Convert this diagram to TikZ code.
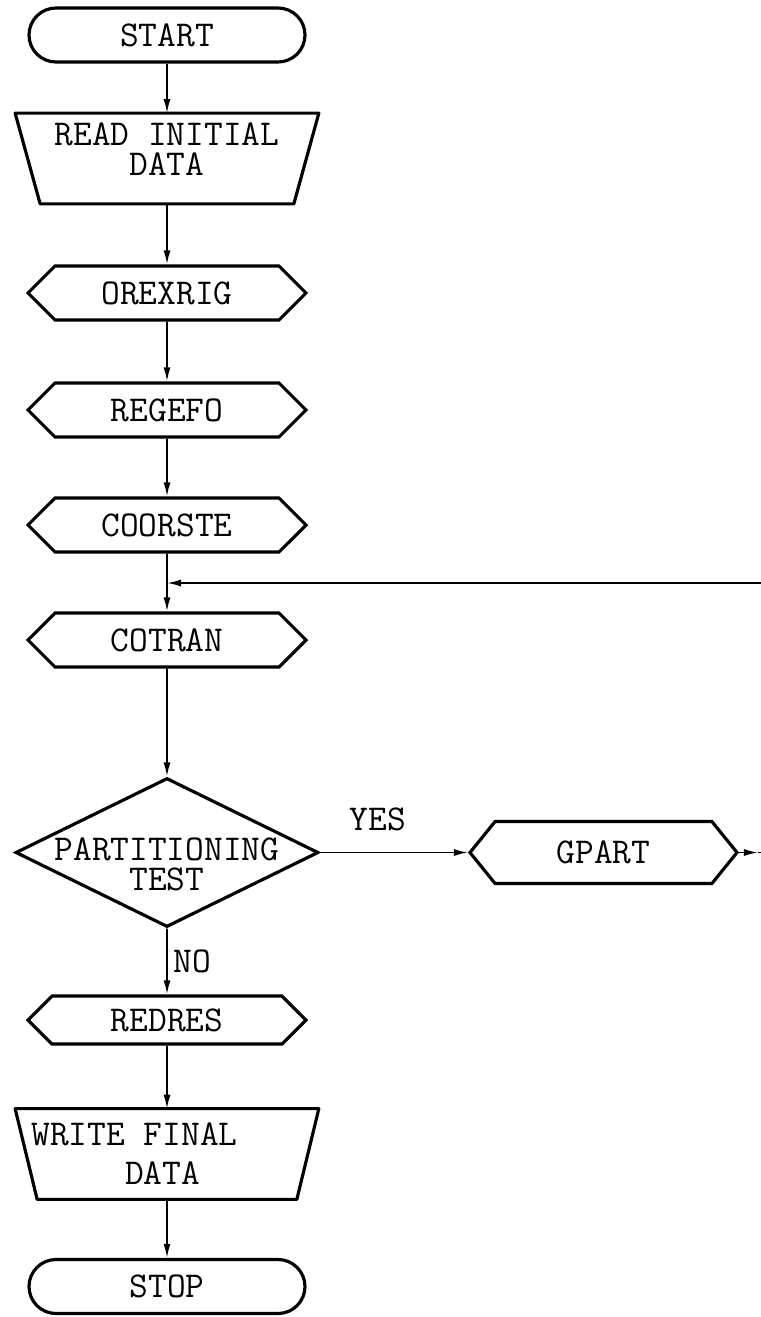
\documentclass[tikz,border=0pt]{standalone}
\usetikzlibrary{arrows.meta}
\usetikzlibrary{shapes.geometric}
\usetikzlibrary{shapes.symbols}

\tikzset{
  terminal/.style={draw, line width=1.8pt, rectangle, rounded corners=0.54cm,
    minimum width=5.52cm, minimum height=1.08cm, inner sep=0pt},
  iobox/.style={rectangle, minimum width=6.06cm, minimum height=1.8cm, inner sep=0pt},
  ioline/.style={draw, line width=1.8pt, line join=round},
  procbox/.style={draw, line width=1.8pt, shape=signal, signal to=west and east,
    signal pointer angle=90, minimum width=5.56cm, minimum height=1.08cm, inner sep=0pt},
  testbox/.style={draw, line width=1.8pt, shape=diamond, minimum width=6.06cm,
    minimum height=2.98cm, inner sep=1pt},
  flow/.style={line width=1pt, -{Latex[length=8pt,width=4pt]}}
}

\begin{document}
\begin{tikzpicture}[font=\fontsize{20.7}{17}\selectfont\ttfamily]
            \useasboundingbox (0,0) rectangle (15.2,-26.34);
            \node[terminal] (start) at (3.34,-0.70) {START};
            \node[iobox, label={[align=center,yshift=0.19cm]center:READ INITIAL\\DATA}] (readdata) at (3.34,-3.17) {};
            \draw[ioline] (readdata.north west) -- (readdata.north east) -- ([xshift=-0.5cm]readdata.south east) -- ([xshift=0.5cm]readdata.south west) -- cycle;
            \node[procbox] (orexrig) at (3.34,-5.86) {OREXRIG};
            \node[procbox] (regefo) at (3.34,-8.20) {REGEFO};
            \node[procbox] (coorste) at (3.34,-10.50) {COORSTE};
            \coordinate (join) at (3.34,-11.66);
            \node[procbox] (cotran) at (3.34,-12.80) {COTRAN};
            \node[testbox, label={[align=center,yshift=-0.24cm]center:PARTITIONING\\TEST}] (test) at (3.34,-17.05) {};
            \node[procbox, minimum width=5.34cm, minimum height=1.24cm, signal pointer angle=102] (gpart) at (12.07,-17.05) {GPART};
            \coordinate (gout) at (15.16,-17.05);
            \coordinate (gback) at (15.45,-17.05);
            \node[procbox, minimum height=0.96cm] (redres) at (3.34,-20.40) {REDRES};
            \node[iobox, label={[align=left,xshift=-0.65cm]center:WRITE FINAL\\[5pt]\phantom{WRITE}DATA}] (writedata) at (3.34,-23.08) {};
            \draw[ioline] (writedata.north west) -- (writedata.north east) -- ([xshift=-0.44cm]writedata.south east) -- ([xshift=0.44cm]writedata.south west) -- cycle;
            \node[terminal] (stop) at (3.34,-25.73) {STOP};
            \draw[flow] (start) -- (readdata);
            \draw[flow] (readdata) -- (orexrig);
            \draw[flow] (orexrig) -- (regefo);
            \draw[flow] (regefo) -- (coorste);
            \draw[flow] (coorste) -- (cotran);
            \draw[flow] (cotran) -- (test.north);
            \draw[flow] (test.east) to node[pos=0.39, above=0.3cm] {YES} (gpart.west);
            \draw[flow] (gpart.east) -- (gout);
            \draw[flow] (gout) -- (gback) |- (join);
            \draw[flow] (test.south) to node[right] {NO} (redres);
            \draw[flow] (redres) -- (writedata);
            \draw[flow] (writedata) -- (stop);
        \end{tikzpicture}
\end{document}
